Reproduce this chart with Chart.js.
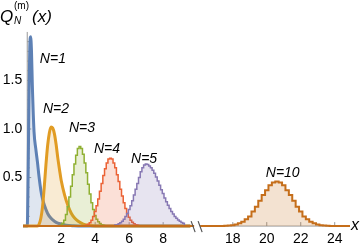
<!DOCTYPE html>
<html>
<head>
<meta charset="utf-8">
<script src="https://cdn.jsdelivr.net/npm/chart.js@4"></script>
<style>body{margin:0;background:#fff}</style>
</head>
<body>
<canvas id="c" width="360" height="250"></canvas>
<script>
// N=1 and N=2 are fine-binned, drawn as smooth curves
var n1X = [-0.25, 0, 0.05, 0.1, 0.15, 0.2, 0.25, 0.3, 0.4, 0.5, 0.6, 0.7, 0.8, 0.9, 1.0, 1.2, 1.4, 1.6, 1.8, 2.0, 2.3, 2.7, 3.2, 9.6];
var n1Y = [0, 0, 0.5, 1.3, 1.85, 1.95, 1.8, 1.45, 0.97, 0.8, 0.66, 0.5, 0.37, 0.28, 0.22, 0.13, 0.08, 0.05, 0.03, 0.02, 0.01, 0.004, 0, 0];

var n2X = [-0.25, 0.6, 0.7, 0.8, 0.9, 1.0, 1.1, 1.2, 1.3, 1.4, 1.5, 1.6, 1.7, 1.8, 1.9, 2.0, 2.2, 2.4, 2.6, 2.8, 3.0, 3.3, 3.6, 4.0, 9.6];
var n2Y = [0, 0, 0.02, 0.08, 0.2, 0.4, 0.63, 0.83, 0.96, 1.02, 1.01, 0.95, 0.84, 0.7, 0.58, 0.47, 0.32, 0.21, 0.13, 0.08, 0.05, 0.02, 0.008, 0, 0];

// histograms: first bin centre, bin width, heights
var n3Start = 2.0, n3Bin = 0.1;
var n3Vals = [0.01, 0.03, 0.06, 0.12, 0.2, 0.3, 0.41, 0.53, 0.64, 0.73, 0.8, 0.82, 0.8, 0.74, 0.65, 0.55, 0.43, 0.33, 0.24, 0.17, 0.11, 0.07, 0.045, 0.027, 0.015, 0.008];

var n4Start = 3.4, n4Bin = 0.1;
var n4Vals = [0.005, 0.01, 0.02, 0.035, 0.06, 0.1, 0.15, 0.21, 0.28, 0.36, 0.44, 0.52, 0.59, 0.65, 0.69, 0.7, 0.69, 0.65, 0.6, 0.53, 0.46, 0.38, 0.31, 0.24, 0.18, 0.13, 0.09, 0.06, 0.04, 0.025, 0.015, 0.008];

var n5Start = 5.2, n5Bin = 0.1;
var n5Vals = [0.01, 0.015, 0.025, 0.035, 0.05, 0.07, 0.1, 0.13, 0.17, 0.21, 0.26, 0.32, 0.38, 0.44, 0.5, 0.56, 0.6, 0.63, 0.64, 0.635, 0.62, 0.6, 0.575, 0.545, 0.505, 0.465, 0.42, 0.375, 0.335, 0.29, 0.25, 0.215, 0.18, 0.15, 0.125, 0.1, 0.08, 0.063, 0.05, 0.038, 0.028];

var n10Start = 17.6, n10Bin = 0.2;
var n10Vals = [0.003, 0.005, 0.009, 0.016, 0.028, 0.045, 0.07, 0.1, 0.15, 0.2, 0.26, 0.32, 0.37, 0.42, 0.45, 0.46, 0.45, 0.42, 0.37, 0.32, 0.26, 0.2, 0.15, 0.1, 0.07, 0.045, 0.028, 0.016, 0.009, 0.005, 0.003];

var labels = ['N=1', 'N=2', 'N=3', 'N=4', 'N=5', 'N=10'];
var labelX = [1.51, 1.69, 3.22, 4.69, 6.88, 20.94];
var labelY = [1.72, 1.21, 1.01, 0.79, 0.69, 0.55];

var xTicks = [2, 4, 6, 8, 18, 20, 22, 24];
var yTicks = [0.5, 1.0, 1.5];

var colors = ['94,129,181', '225,156,36', '143,176,50', '235,98,53', '135,120,179', '197,110,26'];

// axis break: values past the gap are shifted left
var breakShift = 5.9;
function toAxis(v) { return v > 12 ? v - breakShift : v; }

function xy(xs, ys) {
  return xs.map(function(v, i) { return {x: v, y: ys[i]}; });
}

function steps(start, bin, vals, lo, hi) {
  var pts = [{x: lo, y: 0}, {x: toAxis(start - bin), y: 0}];
  for (var i = 0; i < vals.length; i++) {
    pts.push({x: toAxis(+(start + i * bin).toFixed(2)), y: vals[i]});
  }
  pts.push({x: toAxis(+(start + vals.length * bin).toFixed(2)), y: 0});
  pts.push({x: hi, y: 0});
  return pts;
}

function ds(data, i, width, stepped) {
  return {
    data: data,
    borderColor: 'rgb(' + colors[i] + ')',
    backgroundColor: 'rgba(' + colors[i] + ',0.2)',
    borderWidth: width,
    fill: 'origin',
    pointRadius: 0,
    stepped: stepped ? 'middle' : false,
    cubicInterpolationMode: 'monotone',
    clip: false,
    order: 6 - i
  };
}

var axesPlugin = {
  id: 'axes',
  beforeDatasetsDraw: function(chart) {
    var ctx = chart.ctx, x = chart.scales.x, y = chart.scales.y;
    var y0 = y.getPixelForValue(0), x0 = x.getPixelForValue(0);
    ctx.save();
    ctx.strokeStyle = '#999';
    ctx.lineWidth = 1;
    ctx.beginPath();
    ctx.moveTo(x.left, y0); ctx.lineTo(x.right, y0);
    ctx.moveTo(x0, y0); ctx.lineTo(x0, y.getPixelForValue(2.0));
    for (var k = 1; k < 20; k++) {
      var py = y.getPixelForValue(k / 10);
      ctx.moveTo(x0, py); ctx.lineTo(x0 + (k % 5 == 0 ? 4 : 2.5), py);
    }
    xTicks.forEach(function(t) {
      var px = x.getPixelForValue(toAxis(t));
      ctx.moveTo(px, y0); ctx.lineTo(px, y0 - 4);
    });
    ctx.stroke();
    ctx.restore();
  },
  afterDatasetsDraw: function(chart) {
    var ctx = chart.ctx, x = chart.scales.x, y = chart.scales.y;
    var y0 = y.getPixelForValue(0), x0 = x.getPixelForValue(0);
    ctx.save();
    ctx.fillStyle = '#000';
    ctx.font = '14px "Liberation Sans"';
    ctx.textBaseline = 'middle';
    ctx.textAlign = 'right';
    yTicks.forEach(function(t) {
      ctx.fillText(t.toFixed(1), x0 - 5, y.getPixelForValue(t));
    });
    ctx.textAlign = 'center';
    ctx.textBaseline = 'top';
    xTicks.forEach(function(t) {
      ctx.fillText(String(t), x.getPixelForValue(toAxis(t)), y0 + 6);
    });
    // series labels
    ctx.font = 'italic 14px "Liberation Sans"';
    ctx.textBaseline = 'middle';
    labels.forEach(function(s, i) {
      ctx.fillText(s, x.getPixelForValue(toAxis(labelX[i])), y.getPixelForValue(labelY[i]));
    });
    // axis break mark
    var bx = x.getPixelForValue(10);
    ctx.fillStyle = '#fff';
    ctx.fillRect(bx - 3, y0 - 2, 6, 4);
    ctx.strokeStyle = '#555';
    ctx.lineWidth = 1.2;
    ctx.beginPath();
    ctx.moveTo(bx - 6, y0 - 5); ctx.lineTo(bx - 2, y0 + 6);
    ctx.moveTo(bx + 1, y0 - 5); ctx.lineTo(bx + 5, y0 + 6);
    ctx.stroke();
    // axis labels
    ctx.fillStyle = '#000';
    ctx.textAlign = 'left';
    ctx.textBaseline = 'alphabetic';
    ctx.font = 'italic 16px "Liberation Sans"';
    ctx.fillText('x', x.right + 1, y0 + 4);
    ctx.font = 'italic 17px "Liberation Sans"';
    ctx.fillText('Q', 0, 22);
    ctx.font = '10px "Liberation Sans"';
    ctx.fillText('(m)', 14, 9);
    ctx.font = 'italic 10px "Liberation Sans"';
    ctx.fillText('N', 14, 24);
    ctx.font = 'italic 17px "Liberation Sans"';
    ctx.fillText('(x)', 32, 22);
    ctx.restore();
  }
};

new Chart(document.getElementById('c'), {
  type: 'line',
  data: {
    datasets: [
      ds(xy(n1X, n1Y), 0, 3, false),
      ds(xy(n2X, n2Y), 1, 3, false),
      ds(steps(n3Start, n3Bin, n3Vals, -0.25, 9.6), 2, 1.5, true),
      ds(steps(n4Start, n4Bin, n4Vals, -0.25, 9.6), 3, 1.5, true),
      ds(steps(n5Start, n5Bin, n5Vals, -0.25, 9.6), 4, 1.5, true),
      ds(steps(n10Start, n10Bin, n10Vals, -0.25, 19), 5, 2, true)
    ]
  },
  options: {
    responsive: false,
    animation: false,
    devicePixelRatio: 1,
    layout: {padding: {left: 23, right: 10, top: 30, bottom: 21}},
    plugins: {legend: {display: false}, tooltip: {enabled: false}},
    scales: {
      x: {type: 'linear', min: -0.25, max: 19, display: false},
      y: {min: -0.03, max: 2.02, display: false}
    }
  },
  plugins: [axesPlugin]
});
</script>
</body>
</html>
